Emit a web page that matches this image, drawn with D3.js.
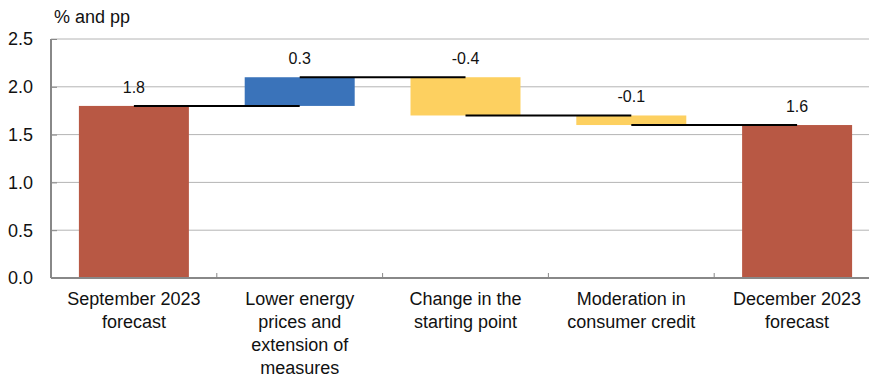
<!DOCTYPE html>
<html>
<head>
<meta charset="utf-8">
<script src="https://cdn.jsdelivr.net/npm/d3@7"></script>
<style>
  html, body { margin: 0; padding: 0; background: #fff; }
  svg { display: block; font-family: "Liberation Sans", Arial, Helvetica, sans-serif; }
</style>
</head>
<body>
<svg id="chart" width="869" height="379"></svg>
<script>
// Waterfall: September 2023 forecast -> December 2023 forecast
const categories = [
  ["September 2023", "forecast"],
  ["Lower energy", "prices and", "extension of", "measures"],
  ["Change in the", "starting point"],
  ["Moderation in", "consumer credit"],
  ["December 2023", "forecast"]
];
const values = [1.8, 0.3, -0.4, -0.1, 1.6];
const kinds = ["total", "delta", "delta", "delta", "total"];
const valueLabels = ["1.8", "0.3", "-0.4", "-0.1", "1.6"];
const yTicks = [0, 0.5, 1.0, 1.5, 2.0, 2.5];
const yTitle = "% and pp";

const colors = { total: "#B85844", up: "#3A73BA", down: "#FDD060" };

const svg = d3.select("#chart");
const keys = categories.map((c, i) => "c" + i);

const x = d3.scaleBand()
  .domain(keys)
  .range([51, 880])
  .paddingInner(0.3366)
  .paddingOuter(0.1683);

const y = d3.scaleLinear().domain([0, 2.5]).range([278, 39]);

// running bases for the waterfall
let level = 0;
const bars = values.map((v, i) => {
  let lo, hi, end;
  if (kinds[i] === "total") {
    lo = 0; hi = v; end = v;
  } else {
    const start = level;
    end = start + v;
    lo = Math.min(start, end); hi = Math.max(start, end);
  }
  level = end;
  const color = kinds[i] === "total" ? colors.total : (v >= 0 ? colors.up : colors.down);
  return { key: keys[i], v, lo, hi, end, color, label: valueLabels[i] };
});

// gridlines
svg.append("g")
  .selectAll("line")
  .data(yTicks.filter(t => t > 0))
  .join("line")
  .attr("x1", 51).attr("x2", 869)
  .attr("y1", d => y(d)).attr("y2", d => y(d))
  .attr("stroke", "#b4b4b4").attr("stroke-width", 1);

// y axis
const yAxis = svg.append("g")
  .attr("transform", "translate(51,0)")
  .call(d3.axisRight(y).tickValues(yTicks).tickSize(6).tickFormat(""));
yAxis.select(".domain").remove();
yAxis.selectAll(".tick line").attr("stroke", "#888").attr("stroke-width", 1);
svg.append("line")
  .attr("x1", 51).attr("x2", 51).attr("y1", y(2.5)).attr("y2", y(0))
  .attr("stroke", "#888").attr("stroke-width", 2);

svg.append("g")
  .selectAll("text")
  .data(yTicks)
  .join("text")
  .attr("x", 33)
  .attr("y", d => y(d))
  .attr("dy", "0.36em")
  .attr("text-anchor", "end")
  .attr("font-size", 18)
  .attr("fill", "#111")
  .text(d => d.toFixed(1));

svg.append("text")
  .attr("x", 54).attr("y", 23)
  .attr("font-size", 18).attr("fill", "#111")
  .text(yTitle);

// bars
svg.append("g")
  .selectAll("rect")
  .data(bars)
  .join("rect")
  .attr("x", d => x(d.key))
  .attr("width", x.bandwidth())
  .attr("y", d => y(d.hi))
  .attr("height", d => y(d.lo) - y(d.hi))
  .attr("fill", d => d.color);

// connectors between consecutive bars
svg.append("g")
  .selectAll("line")
  .data(bars.slice(0, -1))
  .join("line")
  .attr("x1", (d, i) => x(keys[i]) + x.bandwidth() / 2)
  .attr("x2", (d, i) => x(keys[i + 1]) + x.bandwidth() / 2)
  .attr("y1", d => y(d.end)).attr("y2", d => y(d.end))
  .attr("stroke", "#000").attr("stroke-width", 2);

// value labels
svg.append("g")
  .selectAll("text")
  .data(bars)
  .join("text")
  .attr("x", d => x(d.key) + x.bandwidth() / 2)
  .attr("y", d => y(d.hi) - 13)
  .attr("text-anchor", "middle")
  .attr("font-size", 16)
  .attr("fill", "#111")
  .text(d => d.label);

// x axis line and boundary ticks
svg.append("line")
  .attr("x1", 51).attr("x2", 869).attr("y1", y(0)).attr("y2", y(0))
  .attr("stroke", "#888").attr("stroke-width", 2);
const step = x.step();
svg.append("g")
  .selectAll("line")
  .data(keys.slice(0, -1))
  .join("line")
  .attr("x1", d => x(d) + x.bandwidth() + (step - x.bandwidth()) / 2)
  .attr("x2", d => x(d) + x.bandwidth() + (step - x.bandwidth()) / 2)
  .attr("y1", y(0)).attr("y2", y(0) - 5)
  .attr("stroke", "#888").attr("stroke-width", 1);

// category labels
const catG = svg.append("g");
categories.forEach((lines, i) => {
  const cx = x(keys[i]) + x.bandwidth() / 2;
  const t = catG.append("text")
    .attr("x", cx)
    .attr("y", 305)
    .attr("text-anchor", "middle")
    .attr("font-size", 18)
    .attr("fill", "#111");
  lines.forEach((ln, j) => {
    t.append("tspan")
      .attr("x", cx)
      .attr("y", 305 + j * 23)
      .text(ln);
  });
});
</script>
</body>
</html>
